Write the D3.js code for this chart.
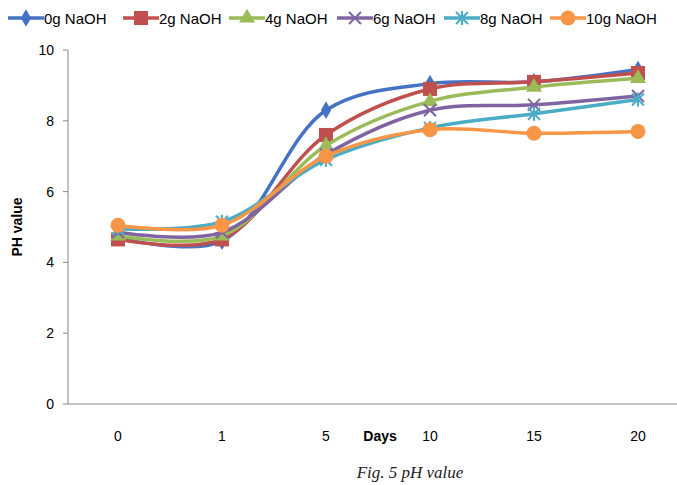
<!DOCTYPE html><html><head><script src="https://cdn.jsdelivr.net/npm/d3@7"></script>
<style>body{margin:0;background:#fff}</style></head><body><svg id="c" width="677" height="485"></svg>
<script>
const days=["0","1","5","10","15","20"];
const names=["0g NaOH","2g NaOH","4g NaOH","6g NaOH","8g NaOH","10g NaOH"];
const colors=["#4472C4","#C0504D","#9BBB59","#8064A2","#4BACC6","#F79646"];
const v0=[4.7,4.6,8.3,9.05,9.1,9.45];
const v2=[4.65,4.65,7.6,8.9,9.1,9.35];
const v4=[4.75,4.75,7.3,8.55,8.95,9.2];
const v6=[4.85,4.85,7.05,8.3,8.45,8.7];
const v8=[4.95,5.15,6.9,7.8,8.2,8.6];
const v10=[5.05,5.05,7.0,7.75,7.65,7.7];
const series=[v0,v2,v4,v6,v8,v10];
const yTicks=[0,2,4,6,8,10];
const svg=d3.select("#c");
const x=d3.scalePoint().domain(days).range([118,638]);
const y=d3.scaleLinear().domain([0,10]).range([404,50]);
svg.append("line").attr("x1",68).attr("x2",68).attr("y1",50).attr("y2",404).attr("stroke","#888");
svg.append("line").attr("x1",68).attr("x2",677).attr("y1",404).attr("y2",404).attr("stroke","#888");
yTicks.forEach(t=>{svg.append("line").attr("x1",63).attr("x2",68).attr("y1",y(t)).attr("y2",y(t)).attr("stroke","#888");
svg.append("text").attr("x",54).attr("y",y(t)+5).attr("text-anchor","end").attr("font-family","Liberation Sans").attr("font-size",14).text(t);});
days.forEach(d=>svg.append("text").attr("x",x(d)).attr("y",441).attr("text-anchor","middle").attr("font-family","Liberation Sans").attr("font-size",14).text(d));
svg.append("text").attr("x",380).attr("y",441).attr("text-anchor","middle").attr("font-family","Liberation Sans").attr("font-weight","bold").attr("font-size",14).text("Days");
svg.append("text").attr("transform","translate(22,227) rotate(-90)").attr("text-anchor","middle").attr("font-family","Liberation Sans").attr("font-weight","bold").attr("font-size",14).text("PH value");
svg.append("text").attr("x",410).attr("y",478).attr("text-anchor","middle").attr("font-family","Liberation Serif").attr("font-style","italic").attr("font-size",17).attr("fill","#222").text("Fig. 5 pH value");
const line=d3.line().x((d,i)=>x(days[i])).y(d=>y(d)).curve(d3.curveCatmullRom.alpha(0.5));
function marker(g,k,cx,cy,c){
 if(k==0) g.append("path").attr("d",d3.symbol(d3.symbolDiamond,90)()).attr("transform",`translate(${cx},${cy})`).attr("fill",c);
 else if(k==1) g.append("rect").attr("x",cx-7).attr("y",cy-7).attr("width",14).attr("height",14).attr("fill",c);
 else if(k==2) g.append("path").attr("d",d3.symbol(d3.symbolTriangle,110)()).attr("transform",`translate(${cx},${cy})`).attr("fill",c);
 else if(k==3) g.append("path").attr("d",`M${cx-6},${cy-6}L${cx+6},${cy+6}M${cx-6},${cy+6}L${cx+6},${cy-6}`).attr("stroke",c).attr("stroke-width",2);
 else if(k==4) g.append("path").attr("d",`M${cx-6},${cy-6}L${cx+6},${cy+6}M${cx-6},${cy+6}L${cx+6},${cy-6}M${cx},${cy-7}L${cx},${cy+7}`).attr("stroke",c).attr("stroke-width",2);
 else g.append("circle").attr("cx",cx).attr("cy",cy).attr("r",7.5).attr("fill",c);
}
series.forEach((s,k)=>{const g=svg.append("g");
 g.append("path").datum(s).attr("d",line).attr("fill","none").attr("stroke",colors[k]).attr("stroke-width",3.5);
 s.forEach((v,i)=>marker(g,k,x(days[i]),y(v),colors[k]));});
const lx=[8,123,229,337,444,550];
names.forEach((n,k)=>{const g=svg.append("g");
 g.append("line").attr("x1",lx[k]).attr("x2",lx[k]+36).attr("y1",18).attr("y2",18).attr("stroke",colors[k]).attr("stroke-width",3.5);
 marker(g,k,lx[k]+18,18,colors[k]);
 g.append("text").attr("x",lx[k]+36).attr("y",24).attr("font-family","Liberation Sans").attr("font-size",15).text(n);});
</script></body></html>
